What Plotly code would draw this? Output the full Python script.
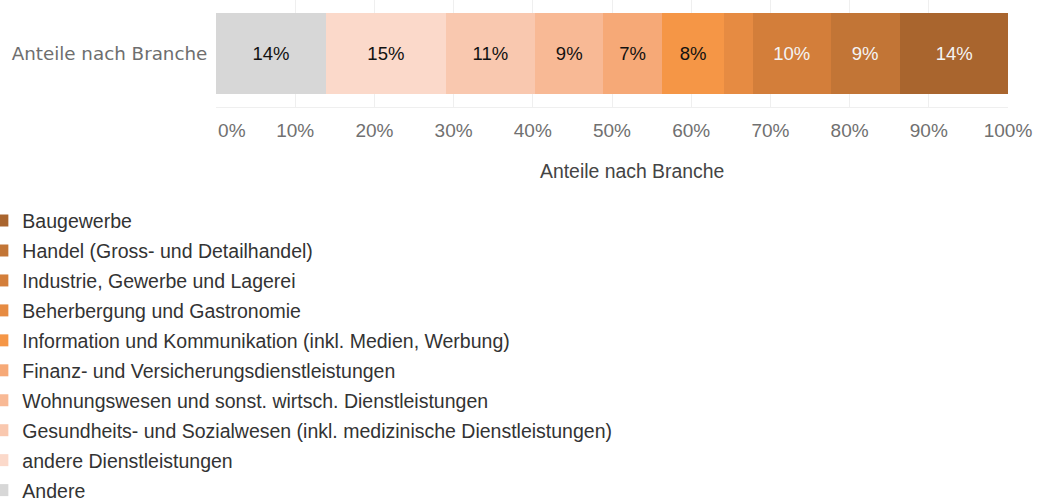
import plotly.graph_objects as go

# Data (left-to-right stacking order)
category = "Anteile nach Branche"
branchen = [
    "Andere",
    "andere Dienstleistungen",
    "Gesundheits- und Sozialwesen (inkl. medizinische Dienstleistungen)",
    "Wohnungswesen und sonst. wirtsch. Dienstleistungen",
    "Finanz- und Versicherungsdienstleistungen",
    "Information und Kommunikation (inkl. Medien, Werbung)",
    "Beherbergung und Gastronomie",
    "Industrie, Gewerbe und Lagerei",
    "Handel (Gross- und Detailhandel)",
    "Baugewerbe",
]
anteile = [13.9, 15.1, 11.3, 8.6, 7.4, 7.9, 3.6, 9.8, 8.7, 13.8]
farben = ["#D7D7D7", "#FBD9CA", "#F9C8AF", "#F8B995", "#F6A977",
          "#F59646", "#E68B42", "#D37E3A", "#C27536", "#A9652E"]
textfarben = ["#111111"] * 7 + ["#F4F4F4"] * 3
tick_vals = [0, 10, 20, 30, 40, 50, 60, 70, 80, 90, 100]
tick_text = ["\u00a0\u00a0\u00a0\u00a0\u00a0\u00a00%"] + [f"{v}%" for v in tick_vals[1:]]

fig = go.Figure()
n = len(branchen)
for i, (name, val, col, tcol) in enumerate(zip(branchen, anteile, farben, textfarben)):
    label = f"{round(val)}%" if val >= 5 else ""
    fig.add_trace(go.Bar(
        x=[val], y=[category], orientation="h", name=name,
        legendgroup=name, legendrank=n - i,
        marker=dict(color=col, line=dict(width=0)),
        text=[label], textposition="inside", insidetextanchor="middle",
        textangle=0, constraintext="none",
        textfont=dict(family="Liberation Sans, Arial, sans-serif", size=18.5, color=tcol),
        hovertemplate="%{x:.1f}%<extra>" + name + "</extra>",
    ))

fig.update_layout(
    width=1041, height=501,
    barmode="stack", bargap=0.243,
    plot_bgcolor="white", paper_bgcolor="white",
    margin=dict(l=216, r=33, t=0, b=394, autoexpand=False),
    font=dict(family="Liberation Sans, Arial, sans-serif", size=18, color="#333333"),
    legend=dict(
        traceorder="grouped", orientation="v",
        xref="paper", yref="paper",
        x=-0.295, y=-0.882, xanchor="left", yanchor="top",
        font=dict(family="Liberation Sans, Arial, sans-serif", size=19.5, color="#333333"),
        tracegroupgap=1.6, bgcolor="rgba(0,0,0,0)", maxheight=1000,
    ),
    annotations=[dict(
        text="Anteile nach Branche", xref="paper", yref="paper",
        x=0.525, y=-0.6, xanchor="center", yanchor="middle", showarrow=False,
        font=dict(family="Liberation Sans, Arial, sans-serif", size=19.4, color="#444444"),
    )],
)
fig.update_xaxes(
    range=[0, 100], tickvals=tick_vals, ticktext=tick_text,
    showgrid=True, gridcolor="#EFEFEF", gridwidth=1,
    showline=True, linecolor="#EFEFEF", linewidth=1,
    zeroline=False, ticks="outside", ticklen=6, tickcolor="rgba(0,0,0,0)",
    tickfont=dict(family="Liberation Sans, Arial, sans-serif", size=19, color="#707070"),
)
fig.update_yaxes(
    showgrid=False, zeroline=False, ticks="outside", ticklen=4,
    tickcolor="rgba(0,0,0,0)",
    tickfont=dict(family="DejaVu Sans, sans-serif", size=18.3, color="#6E6E6E"),
)

fig.write_html(
    "out.html",
    config={"displayModeBar": False},
    post_script="document.body.style.margin='0';document.body.style.overflow='hidden';",
)
